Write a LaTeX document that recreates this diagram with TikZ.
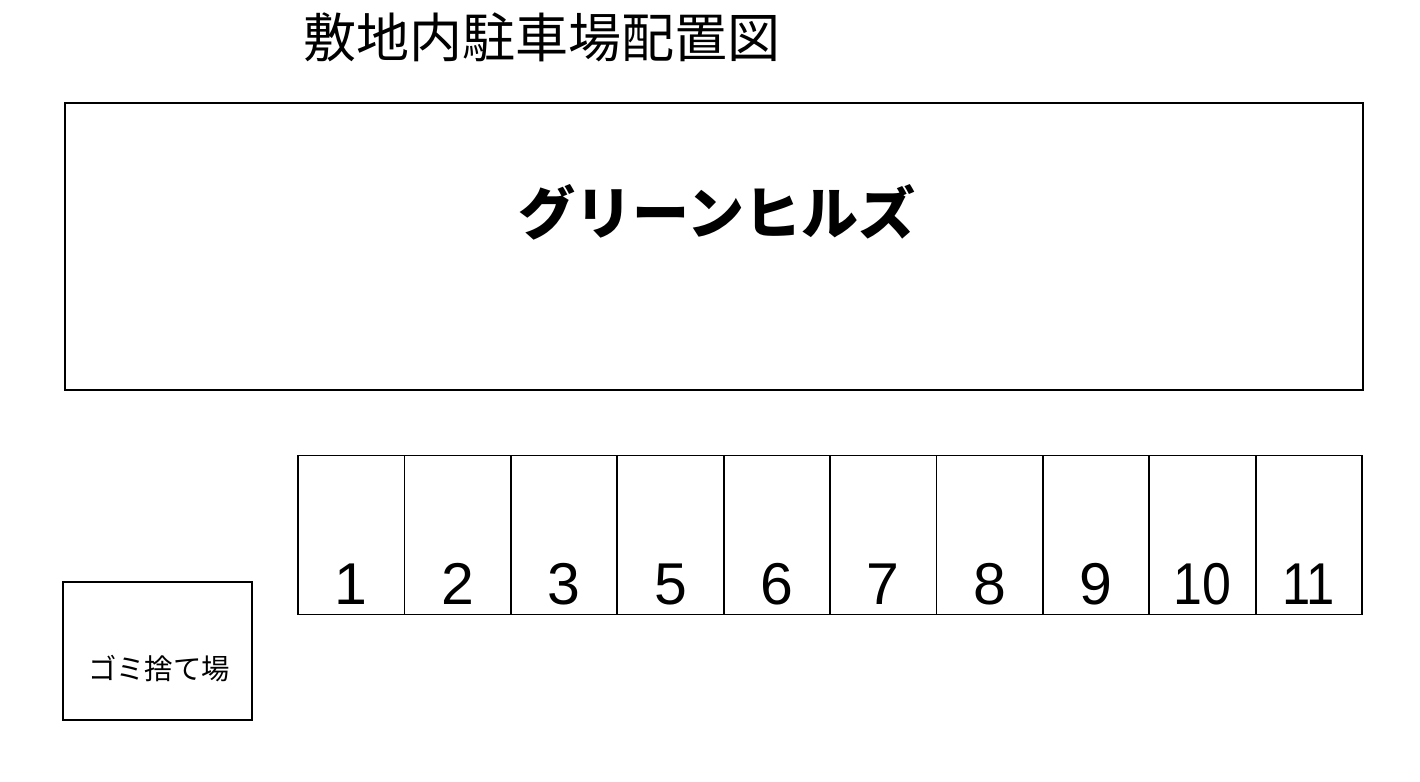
\documentclass[tikz,border=0pt]{standalone}
\usepackage{graphicx}
\usepackage{fontspec}
\newfontfamily\jpfont{Noto Sans CJK JP}
\newfontfamily\numfont{Liberation Sans}
\begin{document}
\begin{tikzpicture}[x=1pt,y=-1pt,
  box/.style={draw=black,line width=2pt,rectangle,inner sep=0pt},
  stall/.style={draw=black,line width=1.8pt,rectangle,inner sep=0pt,minimum width=106.4pt,minimum height=159pt},
  num/.style={font=\numfont\fontsize{59}{60}\selectfont,anchor=base,inner sep=0pt},
  txt/.style={inner sep=0pt}]
\fill[white] (0,0) rectangle (1420,781);
\useasboundingbox (0,0) rectangle (1420,781);
% title
\node[txt,font=\jpfont\fontsize{53}{60}\selectfont] (title) at (542,37) {敷地内駐車場配置図};
% building
\node[box,minimum width=1298pt,minimum height=287pt] (bldg) at (714,246.5) {};
\node[txt,font=\jpfont\bfseries\fontsize{57}{62}\selectfont] (bname) at (717,212) {グリーンヒルズ};
% garbage area
\node[box,minimum width=189pt,minimum height=138pt] (gomi) at (157.5,651) {};
\node[txt,font=\jpfont\fontsize{28.4}{32}\selectfont] (gomitxt) at (159,669) {ゴミ捨て場};
% parking stalls
\foreach \i/\lab in {0/1,1/2,2/3,3/5,4/6,5/7,6/8,7/9,8/\scalebox{0.88}[1]{10},9/\scalebox{0.86}[1]{11}}{
  \node[stall] (s\i) at ({298+106.4*\i+53.2},535) {};
  \node[num] (n\i) at ({298+106.4*\i+53.2},604.5) {\lab};
}
\end{tikzpicture}
\end{document}
